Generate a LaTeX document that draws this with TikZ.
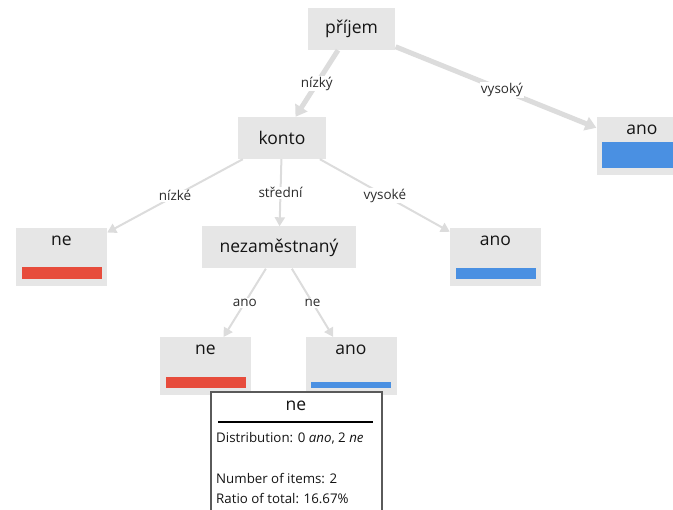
\documentclass[tikz,border=0pt]{standalone}
\usepackage{fontspec}
\setmainfont{Open Sans}
\usetikzlibrary{arrows.meta}
\definecolor{TreeNodeGray}{RGB}{230,230,230}
\definecolor{TreeEdgeGray}{RGB}{220,220,220}
\definecolor{TreeRed}{RGB}{231,76,60}
\definecolor{TreeBlue}{RGB}{74,144,226}
\definecolor{TreeText}{RGB}{20,20,20}
\definecolor{TipBorder}{RGB}{90,90,90}

\begin{document}
\begin{tikzpicture}[x=1pt,y=-1pt,
  split/.style={fill=TreeNodeGray,inner xsep=17.5pt,minimum height=42pt,text=TreeText,font=\fontsize{17.5}{20}\selectfont},
  leaf/.style={fill=TreeNodeGray,minimum width=91pt,minimum height=58pt,anchor=north},
  leaftext/.style={inner sep=0pt,text=TreeText,font=\fontsize{17.5}{20}\selectfont},
  edge/.style={draw=TreeEdgeGray,line width=2pt,-{Triangle[length=9pt,width=10pt]}},
  mainedge/.style={edge,line width=5pt,-{Triangle[length=11pt,width=14pt]}},
  lbl/.style={fill=white,inner sep=1pt,text=TreeText!90,font=\fontsize{13.5}{15}\selectfont},
  tiptext/.style={anchor=west,inner sep=0pt,text=TreeText,font=\fontsize{13.3}{16}\selectfont}]
\clip (0,0) rectangle (673,510);
\node[split] (prijem) at (351.5,29) {příjem};
\node[split,minimum width=88pt] (konto) at (282,138) {konto};
\node[split] (nezam) at (279,247.5) {nezaměstnaný};
\foreach \n/\x/\y/\t/\c/\h in %
{r1/642/117/ano/TreeBlue/26,r2/61.5/228/ne/TreeRed/12,r3/495.5/228/ano/TreeBlue/11,%
 r4/205.5/337/ne/TreeRed/11,r5/351/337/ano/TreeBlue/6} {
   \node[leaf] (\n) at (\x,\y) {};
   \node[leaftext] (\n t) at (\x,\y+12.5) {\t};
   \fill[\c] (\x-40,\y+51-\h) rectangle (\x+40,\y+51);
}
\draw[mainedge] (prijem) -- node[lbl]{nízký} (konto);
\draw[mainedge] (prijem) -- node[lbl,pos=0.53]{vysoký} (r1);
\draw[edge] (konto) -- node[lbl]{nízké} (r2);
\draw[edge] (konto) -- node[lbl]{střední} (nezam);
\draw[edge] (konto) -- node[lbl]{vysoké} (r3);
\draw[edge] (nezam) -- node[lbl]{ano} (r4);
\draw[edge] (nezam) -- node[lbl]{ne} (r5);
\draw[fill=white,draw=TipBorder,line width=1.2pt] (211,392) rectangle (382,530);
\node[leaftext] (tiphead) at (296,406) {ne};
\draw[line width=2pt] (218,422) -- (373,422);
\node[tiptext] (tipdist) at (216,438) {Distribution: 0 \textit{ano}, 2 \textit{ne}};
\node[tiptext] (tipnum) at (216,479) {Number of items: 2};
\node[tiptext] (tipratio) at (216,499) {Ratio of total: 16.67\%};
\end{tikzpicture}
\end{document}
